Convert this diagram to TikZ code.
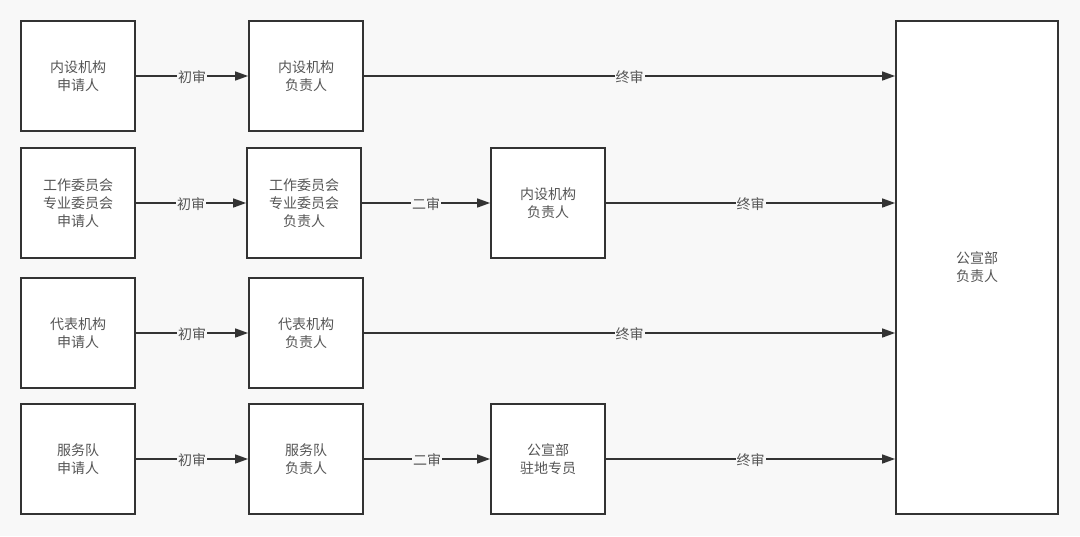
\documentclass[tikz,border=0pt]{standalone}
\usepackage{fontspec}
\newfontfamily\cjk{Noto Sans CJK SC}
\usetikzlibrary{arrows.meta}
\definecolor{bgc}{HTML}{F8F8F8}
\definecolor{linec}{HTML}{333333}
\definecolor{txtc}{HTML}{555555}
\tikzset{
  box/.style={draw=linec, line width=1.8pt, fill=white, inner sep=0pt, text=txtc,
    font=\cjk\fontsize{14}{18}\selectfont, align=center},
  conn/.style={draw=linec, line width=1.5pt, -{Triangle[length=13pt,width=9pt]}},
  lbl/.style={fill=bgc, text=txtc, font=\cjk\fontsize{14}{16}\selectfont, inner sep=1pt, yshift=-1pt}
}
\begin{document}
\begin{tikzpicture}[x=1pt,y=-1pt]
\fill[bgc] (0,0) rectangle (1080,536);
\useasboundingbox (0,0) rectangle (1080,536);
\newcommand{\bx}[6]{\node[box, minimum width=#4pt, minimum height=#5pt] (#1) at (#2,#3) {#6};}
% row 1
\bx{a1}{78}{76}{114}{110}{内设机构\\申请人}
\bx{b1}{306}{76}{114}{110}{内设机构\\负责人}
% row 2
\bx{a2}{78}{203}{114}{110}{工作委员会\\专业委员会\\申请人}
\bx{b2}{304}{203}{114}{110}{工作委员会\\专业委员会\\负责人}
\bx{c2}{548}{203}{114}{110}{内设机构\\负责人}
% row 3
\bx{a3}{78}{333}{114}{110}{代表机构\\申请人}
\bx{b3}{306}{333}{114}{110}{代表机构\\负责人}
% row 4
\bx{a4}{78}{459}{114}{110}{服务队\\申请人}
\bx{b4}{306}{459}{114}{110}{服务队\\负责人}
\bx{c4}{548}{459}{114}{110}{公宣部\\驻地专员}
% big
\bx{z}{977}{267.5}{162}{493}{公宣部\\负责人}
% connectors
\draw[conn] (a1) -- node[lbl]{初审} (b1);
\draw[conn] (b1.east) -- node[lbl]{终审} (b1.east -| z.west);
\draw[conn] (a2) -- node[lbl]{初审} (b2);
\draw[conn] (b2) -- node[lbl]{二审} (c2);
\draw[conn] (c2.east) -- node[lbl]{终审} (c2.east -| z.west);
\draw[conn] (a3) -- node[lbl]{初审} (b3);
\draw[conn] (b3.east) -- node[lbl]{终审} (b3.east -| z.west);
\draw[conn] (a4) -- node[lbl]{初审} (b4);
\draw[conn] (b4) -- node[lbl]{二审} (c4);
\draw[conn] (c4.east) -- node[lbl]{终审} (c4.east -| z.west);
\end{tikzpicture}
\end{document}
